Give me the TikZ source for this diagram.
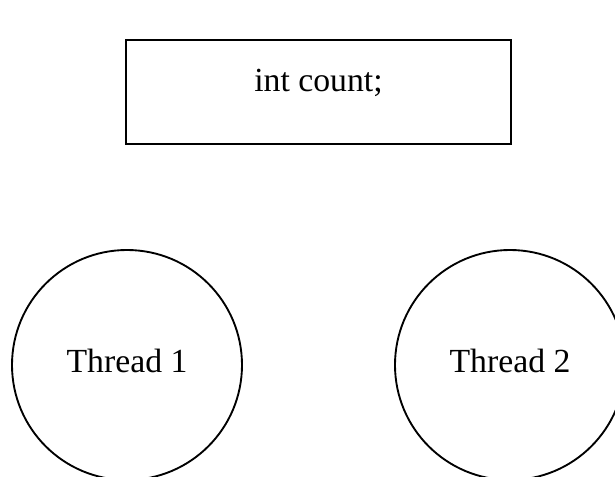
\documentclass[tikz,border=0pt]{standalone}
\usepackage{fontspec}
\setmainfont{Liberation Serif}
\usetikzlibrary{shapes.geometric}
\begin{document}
\begin{tikzpicture}[x=0.75pt,y=-0.75pt,
  every node/.style={font=\fontsize{25.3}{30}\selectfont},
  varbox/.style={draw, line width=1.4pt, rectangle, minimum width=288.75pt, minimum height=78pt, inner sep=0pt, text height=10pt, text depth=10pt},
  threadnode/.style={draw, line width=1.4pt, circle, minimum size=172.5pt, inner sep=0pt, text height=17pt, text depth=5pt}]
\useasboundingbox (0,0) rectangle (615,477);
\clip (0,0) rectangle (615,477);
\node[varbox] (var) at (318.5,92) {int count;};
\node[threadnode] (t1) at (127,365) {Thread 1};
\node[threadnode] (t2) at (510,365) {Thread 2};
\end{tikzpicture}
\end{document}
